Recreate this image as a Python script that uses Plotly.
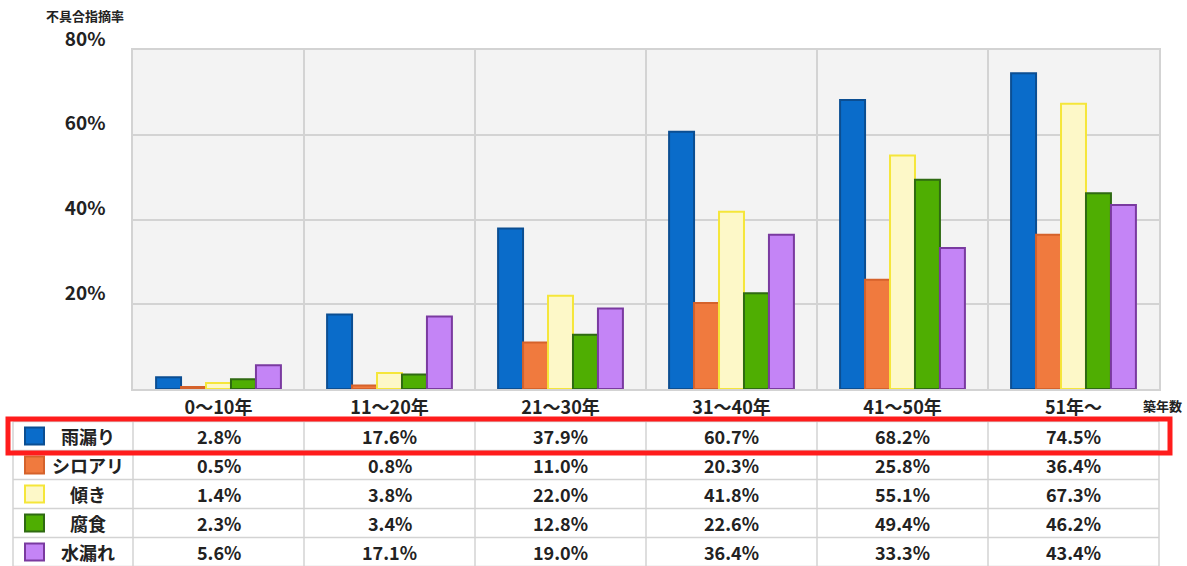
import plotly.graph_objects as go

# ---------------- data ----------------
categories = ["0～10年", "11～20年", "21～30年", "31～40年", "41～50年", "51年～"]
series_names = ["雨漏り", "シロアリ", "傾き", "腐食", "水漏れ"]
amamori = [2.8, 17.6, 37.9, 60.7, 68.2, 74.5]
shiroari = [0.5, 0.8, 11.0, 20.3, 25.8, 36.4]
katamuki = [1.4, 3.8, 22.0, 41.8, 55.1, 67.3]
fushoku = [2.3, 3.4, 12.8, 22.6, 49.4, 46.2]
mizumore = [5.6, 17.1, 19.0, 36.4, 33.3, 43.4]
y_ticks = [20, 40, 60, 80]
y_title = "不具合指摘率"
x_title = "築年数"

series_values = [amamori, shiroari, katamuki, fushoku, mizumore]

# ---------------- styles ----------------
fills = ["#0a6cca", "#f07a3e", "#fdf8c8", "#4fae02", "#c484f6"]
borders = ["#0b4e92", "#d5622b", "#f5e63a", "#2f6a12", "#7a3aa0"]
FONT = "Noto Sans CJK JP"
GRID = "#d3d3d3"
TXT = "#222222"

W, H = 1187, 566
L, R, T, B = 133, 1159, 50, 389  # plot area in pixels


def px(xp):
    return (xp - L) / (R - L)


def py(yp):
    return (B - yp) / (B - T)


xs = list(range(len(categories)))

fig = go.Figure()
for name, vals, f, b in zip(series_names, series_values, fills, borders):
    fig.add_trace(go.Bar(
        x=xs, y=vals, name=name,
        marker=dict(color=f, line=dict(color=b, width=2)),
        hoverinfo="x+y+name",
    ))

shapes = []
annotations = []

# ---------- table below chart ----------
row_top = 421.5
row_h = 29
n_rows = len(series_names)
tbl_left = 13
# horizontal lines
for k in range(n_rows + 1):
    yy = row_top + k * row_h
    shapes.append(dict(type="line", xref="paper", yref="paper",
                       x0=px(tbl_left), x1=px(R), y0=py(yy), y1=py(yy),
                       line=dict(color=GRID, width=1.5), layer="above"))
# vertical lines
vxs = [tbl_left, L] + [L + (R - L) * (i + 1) / len(categories) for i in range(len(categories))]
for vx in vxs:
    shapes.append(dict(type="line", xref="paper", yref="paper",
                       x0=px(vx), x1=px(vx), y0=py(row_top), y1=py(H + 2),
                       line=dict(color=GRID, width=1.5), layer="above"))

for r, (name, vals, f, b) in enumerate(zip(series_names, series_values, fills, borders)):
    yc = row_top + row_h * (r + 0.5)
    # legend square
    shapes.append(dict(type="rect", xref="paper", yref="paper",
                       x0=px(25), x1=px(44), y0=py(yc - 8.5), y1=py(yc + 8.5),
                       fillcolor=f, line=dict(color=b, width=2), layer="above"))
    annotations.append(dict(text=name, xref="paper", yref="paper",
                            x=px(88), y=py(yc), showarrow=False,
                            xanchor="center", yanchor="middle",
                            font=dict(family=FONT, size=18, color=TXT, weight=700)))
    for i, v in enumerate(vals):
        annotations.append(dict(text=f"{v:.1f}%", xref="x", yref="paper",
                                x=xs[i], y=py(yc), showarrow=False,
                                xanchor="center", yanchor="middle",
                                font=dict(family=FONT, size=18, color=TXT, weight=700)))

# red highlight around first row
shapes.append(dict(type="rect", xref="paper", yref="paper",
                   x0=px(8), x1=px(1170), y0=py(419), y1=py(453),
                   fillcolor="rgba(0,0,0,0)", line=dict(color="#ff1c1c", width=5),
                   layer="above"))

# axis titles
annotations.append(dict(text=y_title, xref="paper", yref="paper",
                        x=px(85), y=py(16), showarrow=False,
                        xanchor="center", yanchor="middle",
                        font=dict(family=FONT, size=13, color=TXT, weight=700)))
annotations.append(dict(text=x_title, xref="paper", yref="paper",
                        x=px(1162), y=py(405), showarrow=False,
                        xanchor="center", yanchor="middle",
                        font=dict(family=FONT, size=13, color=TXT, weight=700)))

fig.update_layout(
    width=W, height=H,
    margin=dict(l=L, r=W - R, t=T, b=H - B, pad=0),
    paper_bgcolor="white",
    plot_bgcolor="#f3f3f3",
    barmode="group",
    bargap=0.27,
    bargroupgap=0,
    showlegend=False,
    font=dict(family=FONT, color=TXT),
    shapes=shapes,
    annotations=annotations,
)
fig.update_xaxes(
    range=[-0.5, len(categories) - 0.5],
    tickmode="array", tickvals=xs, ticktext=categories,
    tickfont=dict(family=FONT, size=18, color=TXT, weight=700),
    showgrid=False, zeroline=False,
    showline=True, mirror=True, linecolor=GRID, linewidth=1.5,
    minor=dict(tick0=0.5, dtick=1, showgrid=True, gridcolor=GRID, gridwidth=1.5),
    ticks="", ticklabelstandoff=2,
    fixedrange=True,
)
fig.update_yaxes(
    range=[0, 80],
    tickmode="array", tickvals=y_ticks, ticktext=[f"{t}%" for t in y_ticks],
    tickfont=dict(family=FONT, size=19, color=TXT, weight=700),
    showgrid=True, gridcolor=GRID, gridwidth=1.5, zeroline=False,
    showline=True, mirror=True, linecolor=GRID, linewidth=1.5,
    ticks="", ticklabelstandoff=22, ticklabelshift=-11,
    fixedrange=True,
)

fig.write_html(
    "out.html",
    config={"displayModeBar": False},
    post_script="document.body.style.margin='0';document.body.style.overflow='hidden';",
)
